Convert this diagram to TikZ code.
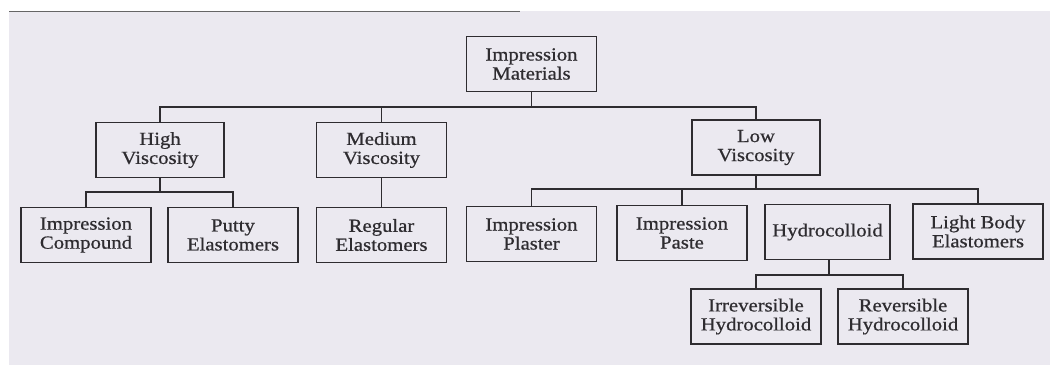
\documentclass[tikz,border=0pt]{standalone}
\usepackage{fontspec}
\setmainfont{Liberation Serif}[FakeStretch=1.12,FakeBold=0.7]
\definecolor{bg}{HTML}{EBE9F0}
\definecolor{ink}{HTML}{2E2C30}
\begin{document}
\begin{tikzpicture}[x=1pt,y=-1pt,
  box/.style={draw=ink, line width=1.3pt, minimum width=130pt, minimum height=55pt,
    inner sep=2pt, align=center, text=ink, font=\fontsize{18.5}{19}\selectfont},
  link/.style={draw=ink, line width=1.3pt}]
\useasboundingbox (0,0) rectangle (1050,365);
\fill[white] (0,0) rectangle (1050,365);
\fill[bg] (9,11) rectangle (1050,365);
\draw[gray!80!black, line width=1pt] (9,11) -- (520,11);

\node[box] (im) at (531.5,64) {Impression\\Materials};
\node[box, minimum width=128pt] (high) at (160,150) {High\\Viscosity};
\node[box] (med) at (381.5,150) {Medium\\Viscosity};
\node[box, minimum width=128pt] (low) at (756,147.5) {Low\\Viscosity};

\node[box] (ic) at (86,235) {Impression\\Compound};
\node[box] (pe) at (233,235) {Putty\\Elastomers};
\node[box] (re) at (381.5,235) {Regular\\Elastomers};
\node[box] (ipl) at (531.5,234) {Impression\\Plaster};
\node[box] (ipa) at (682,233) {Impression\\Paste};
\node[box, minimum width=125pt] (hy) at (827.5,232) {Hydrocolloid};
\node[box] (lb) at (978,231.5) {Light Body\\Elastomers};
\node[box] (irr) at (756,316.5) {Irreversible\\Hydrocolloid};
\node[box] (rev) at (903,316.5) {Reversible\\Hydrocolloid};

\coordinate (b1) at (531.5,107);
\coordinate (b2) at (160,192);
\coordinate (b3) at (756,189);
\coordinate (b4) at (829,275);

\draw[link] (im.south) -- (b1);
\draw[link] (high.north) |- (b1) -| (low.north);
\draw[link] (med.north) -- (med.north |- b1);

\draw[link] (high.south) -- (b2);
\draw[link] (ic.north) |- (b2) -| (pe.north);

\draw[link] (med.south) -- (re.north);

\draw[link] (low.south) -- (b3);
\draw[link] (ipl.north) |- (b3) -| (lb.north);
\draw[link] (ipa.north) -- (ipa.north |- b3);
\draw[link] (hy.north -| b4) -- (hy.north -| b4 |- b3);

\draw[link] (hy.south -| b4) -- (b4);
\draw[link] (irr.north) |- (b4) -| (rev.north);
\end{tikzpicture}
\end{document}
